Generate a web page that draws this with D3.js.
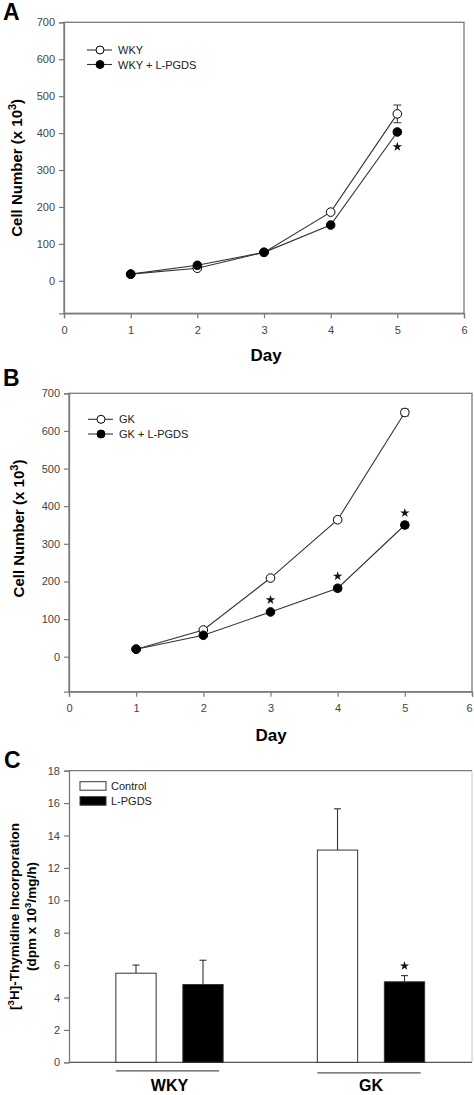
<!DOCTYPE html>
<html><head><meta charset="utf-8">
<script src="https://cdn.jsdelivr.net/npm/d3@7"></script>
<style>body{margin:0;background:#fff}svg{display:block;font-family:Arial,"Liberation Sans",sans-serif}</style>
</head><body>
<svg id="c" width="474" height="1095"></svg>
<script>
// ---- data ----
const days = [1, 2, 3, 4, 5];
const dayTicks = [0, 1, 2, 3, 4, 5, 6];
const cellTicks = [0, 100, 200, 300, 400, 500, 600, 700];

const wky = [18, 34, 77, 186, 452];
const wkyErr = [2, 3, 4, 5, 24];
const wkyPgds = [18, 42, 77, 151, 403];
const wkyPgdsErr = [2, 3, 4, 4, 7];
const wkyStars = [0, 0, 0, 0, 1];

const gk = [20, 71, 209, 364, 649];
const gkErr = [2, 4, 5, 6, 9];
const gkPgds = [20, 57, 119, 182, 350];
const gkPgdsErr = [2, 3, 5, 7, 8];
const gkStars = [0, 0, 1, 1, 1];

const groups = ["WKY", "GK"];
const treatments = ["Control", "L-PGDS"];
const thyControl = [5.5, 13.1];
const thyControlErr = [0.5, 2.55];
const thyPgds = [4.8, 4.97];
const thyPgdsErr = [1.5, 0.38];
const thyStars = [[0, 0], [0, 1]];
const thyTicks = [0, 2, 4, 6, 8, 10, 12, 14, 16, 18];

const svg = d3.select("#c");
const frameCol = "#7a7a7a";
const tickTextCol = "#444";

function panelLetter(t, x, y) {
  svg.append("text").attr("x", x).attr("y", y).text(t)
    .attr("font-size", 23).attr("font-weight", "bold").attr("fill", "#000");
}

function linePanel(o) {
  const x = d3.scaleLinear().domain([0, 6]).range([o.left, o.right]);
  const y = d3.scaleLinear().domain([o.ymin, 700]).range([o.bottom, o.top]);
  const g = svg.append("g");
  g.append("rect").attr("x", o.left).attr("y", o.top)
    .attr("width", o.right - o.left).attr("height", o.bottom - o.top)
    .attr("fill", "none").attr("stroke", frameCol).attr("stroke-width", 1.3);
  const xa = g.append("g").attr("transform", `translate(0,${o.bottom})`)
    .call(d3.axisBottom(x).tickValues(dayTicks).tickSize(5).tickPadding(8).tickFormat(d3.format("d")));
  const ya = g.append("g").attr("transform", `translate(${o.left},0)`)
    .call(d3.axisLeft(y).tickValues(cellTicks).tickSize(5).tickPadding(4).tickFormat(d3.format("d")));
  [xa, ya].forEach(a => {
    a.select(".domain").attr("stroke", frameCol).attr("stroke-width", 1.3);
    a.selectAll(".tick line").attr("stroke", frameCol).attr("stroke-width", 1.2);
    a.selectAll("text").attr("font-size", 11).attr("fill", tickTextCol)
      .attr("font-family", "Arial, 'Liberation Sans', sans-serif");
  });
  if (o.right > 468) {
    xa.selectAll(".tick text").filter(d => d === 6).attr("dx", -3);
  }
  g.append("text").attr("x", o.dayX).attr("y", o.dayY).attr("text-anchor", "middle")
    .attr("font-size", 17).attr("font-weight", "bold").text("Day");
  const yt = g.append("text")
    .attr("transform", `translate(${o.ylabX},${(o.top + o.bottom) / 2 + o.ylabDy}) rotate(-90)`)
    .attr("text-anchor", "middle").attr("font-size", 15).attr("font-weight", "bold");
  yt.append("tspan").text("Cell Number (x 10");
  yt.append("tspan").attr("dy", -6).attr("font-size", 11).text("3");
  yt.append("tspan").attr("dy", 6).text(")");

  const line = d3.line().x((d, i) => x(days[i])).y(d => y(d));
  const series = [
    { v: o.open, e: o.openErr, fill: "#fff" },
    { v: o.filled, e: o.filledErr, fill: "#000" }
  ];
  series.forEach(s => {
    g.append("path").datum(s.v).attr("d", line).attr("fill", "none")
      .attr("stroke", "#333").attr("stroke-width", 1.1);
  });
  series.forEach(s => {
    const eg = g.append("g");
    s.v.forEach((v, i) => {
      const cx = x(days[i]);
      if (s.e[i] > 5) {
        eg.append("line").attr("x1", cx).attr("x2", cx).attr("y1", y(v - s.e[i])).attr("y2", y(v + s.e[i]))
          .attr("stroke", "#333").attr("stroke-width", 1);
        [v - s.e[i], v + s.e[i]].forEach(w => eg.append("line")
          .attr("x1", cx - 4).attr("x2", cx + 4).attr("y1", y(w)).attr("y2", y(w))
          .attr("stroke", "#333").attr("stroke-width", 1));
      }
      eg.append("circle").attr("cx", cx).attr("cy", y(v)).attr("r", 4.3)
        .attr("fill", s.fill).attr("stroke", "#000").attr("stroke-width", 1);
    });
  });
  o.stars.forEach((st, i) => {
    if (!st) return;
    const v = o.filled[i];
    g.append("path").attr("d", d3.symbol(d3.symbolStar, 28)())
      .attr("transform", `translate(${x(days[i])},${y(v + o.starOff)})`).attr("fill", "#111");
  });
  const lg = g.append("g");
  o.legend.forEach((lab, i) => {
    const ly = o.legY + i * o.legGap;
    lg.append("line").attr("x1", o.legX).attr("x2", o.legX + 25).attr("y1", ly).attr("y2", ly)
      .attr("stroke", "#333").attr("stroke-width", 1.1);
    lg.append("circle").attr("cx", o.legX + 13).attr("cy", ly).attr("r", 4)
      .attr("fill", i === 0 ? "#fff" : "#000").attr("stroke", "#000");
    lg.append("text").attr("x", o.legX + 31).attr("y", ly + 4).attr("font-size", 11)
      .attr("fill", "#222").text(lab);
  });
}

panelLetter("A", 3, 20);
linePanel({
  left: 64, right: 464, top: 22.3, bottom: 313.3, ymin: -88,
  open: wky, openErr: wkyErr, filled: wkyPgds, filledErr: wkyPgdsErr, stars: wkyStars, starOff: -40,
  legend: ["WKY", "WKY + L-PGDS"], legX: 87, legY: 50, legGap: 14.5,
  dayX: 266, dayY: 361, ylabX: 22, ylabDy: 0
});

panelLetter("B", 3, 386);
linePanel({
  left: 69, right: 472, top: 393.3, bottom: 691.7, ymin: -93,
  open: gk, openErr: gkErr, filled: gkPgds, filledErr: gkPgdsErr, stars: gkStars, starOff: 32,
  legend: ["GK", "GK + L-PGDS"], legX: 88, legY: 419.3, legGap: 14.7,
  dayX: 271, dayY: 741, ylabX: 24, ylabDy: -14
});

// ---- Panel C ----
panelLetter("C", 4, 768);
(function () {
  const L = 69, R = 472, T = 770.7, B = 1062.3;
  const x = d3.scaleLinear().domain([0, 4]).range([L, R]);
  const gpos = d3.scalePoint().domain(groups).range([1, 3]);
  const off = d3.scalePoint().domain(treatments).range([-0.335, 0.33]);
  const bw = 0.4;
  const y = d3.scaleLinear().domain([0, 18]).range([B, T]);
  const g = svg.append("g");
  g.append("line").attr("x1", L).attr("x2", R).attr("y1", T).attr("y2", T).attr("stroke", frameCol).attr("stroke-width", 1.3);
  g.append("line").attr("x1", R).attr("x2", R).attr("y1", T).attr("y2", B).attr("stroke", "#c8c8c8").attr("stroke-width", 1);
  g.append("line").attr("x1", L).attr("x2", R).attr("y1", B).attr("y2", B).attr("stroke", "#555").attr("stroke-width", 1.3);
  const ya = g.append("g").attr("transform", `translate(${L},0)`)
    .call(d3.axisLeft(y).tickValues(thyTicks).tickSize(5).tickPadding(4).tickFormat(d3.format("d")));
  ya.select(".domain").attr("stroke", frameCol).attr("stroke-width", 1.3);
  ya.selectAll(".tick line").attr("stroke", frameCol).attr("stroke-width", 1.2);
  ya.selectAll("text").attr("font-size", 11).attr("fill", tickTextCol)
    .attr("font-family", "Arial, 'Liberation Sans', sans-serif");

  const vals = [thyControl, thyPgds], errs = [thyControlErr, thyPgdsErr], fills = ["#fff", "#000"];
  groups.forEach((gname, gi) => {
    treatments.forEach((t, ti) => {
      const c = gpos(gname) + off(t);
      const v = vals[ti][gi], e = errs[ti][gi];
      const x0 = x(c - bw / 2), x1 = x(c + bw / 2);
      const cx = x(c);
      g.append("line").attr("x1", cx).attr("x2", cx).attr("y1", y(v)).attr("y2", y(v + e))
        .attr("stroke", "#333").attr("stroke-width", 1.1);
      g.append("line").attr("x1", cx - 3.5).attr("x2", cx + 3.5).attr("y1", y(v + e)).attr("y2", y(v + e))
        .attr("stroke", "#333").attr("stroke-width", 1.1);
      g.append("rect").attr("x", x0).attr("y", y(v)).attr("width", x1 - x0).attr("height", y(0) - y(v))
        .attr("fill", fills[ti]).attr("stroke", "#333").attr("stroke-width", 1);
      if (thyStars[gi][ti]) {
        g.append("path").attr("d", d3.symbol(d3.symbolStar, 26)())
          .attr("transform", `translate(${cx},${y(v + e + 0.6)})`).attr("fill", "#111");
      }
    });
    const gx0 = x(gpos(gname) + off("Control") - bw / 2);
    const gx1 = x(gpos(gname) + off("L-PGDS") + bw / 2);
    const ly = B + 8.5 + gi * 2;
    g.append("line").attr("x1", gx0).attr("x2", gx1 - 4).attr("y1", ly).attr("y2", ly)
      .attr("stroke", "#555").attr("stroke-width", 1.3);
    g.append("text").attr("x", (gx0 + gx1) / 2).attr("y", 1091).attr("text-anchor", "middle")
      .attr("font-size", 16).attr("font-weight", "bold").text(gname);
  });

  treatments.forEach((t, i) => {
    const ly = 781.7 + i * 15;
    g.append("rect").attr("x", 80).attr("y", ly).attr("width", 26).attr("height", 8.5)
      .attr("fill", fills[i]).attr("stroke", "#333").attr("stroke-width", 1);
    g.append("text").attr("x", 111).attr("y", ly + 8.5).attr("font-size", 11).attr("fill", "#222").text(t);
  });

  const cy = (T + B) / 2;
  const t1 = g.append("text").attr("transform", `translate(19,${cy}) rotate(-90)`)
    .attr("text-anchor", "middle").attr("font-size", 13.5).attr("font-weight", "bold");
  t1.append("tspan").text("[");
  t1.append("tspan").attr("dy", -5).attr("font-size", 9.5).text("3");
  t1.append("tspan").attr("dy", 5).text("H]-Thymidine Incorporation");
  const t2 = g.append("text").attr("transform", `translate(36,${cy}) rotate(-90)`)
    .attr("text-anchor", "middle").attr("font-size", 13.5).attr("font-weight", "bold");
  t2.append("tspan").text("(dpm x 10");
  t2.append("tspan").attr("dy", -5).attr("font-size", 9.5).text("3");
  t2.append("tspan").attr("dy", 5).text("/mg/h)");
})();
</script>
</body></html>
